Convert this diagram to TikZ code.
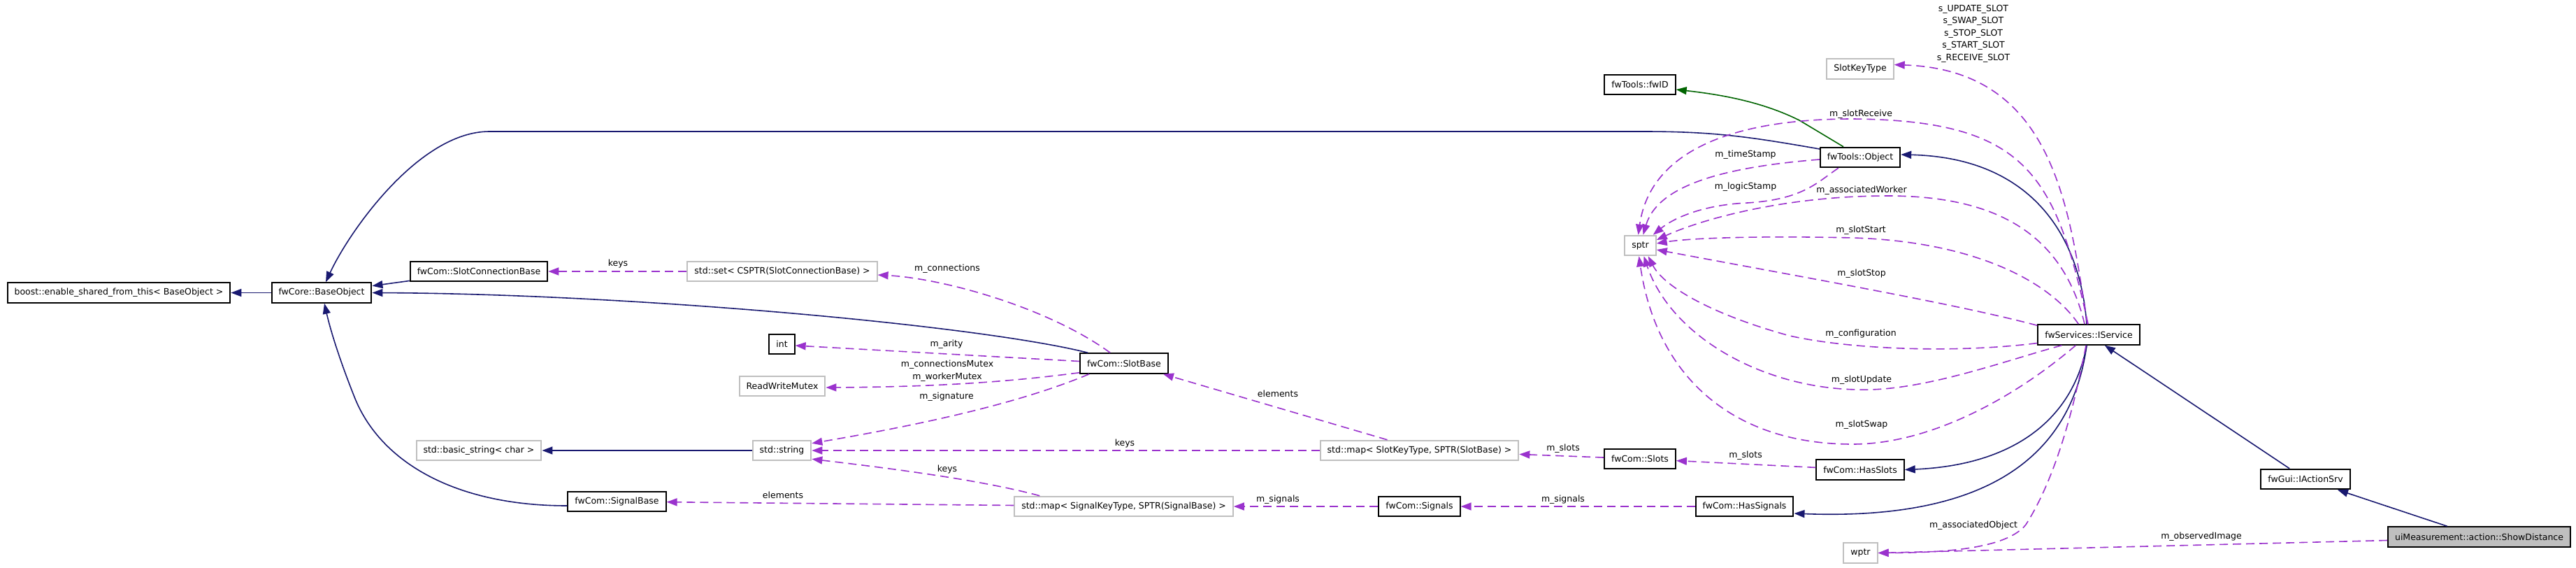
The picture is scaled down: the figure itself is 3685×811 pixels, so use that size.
\documentclass[tikz,border=0pt]{standalone}
\usepackage{fontspec}
\setmainfont{DejaVu Sans}
\usetikzlibrary{arrows.meta,calc}
\definecolor{inhblue}{HTML}{191970}
\definecolor{usepurple}{HTML}{9A32CD}
\definecolor{protgreen}{HTML}{006400}
\definecolor{undocgray}{HTML}{BFBFBF}

\begin{document}
\begin{tikzpicture}[
  x=1pt, y=-1pt,
  >={Triangle[length=15pt,width=11pt]},
  every node/.style={font=\fontsize{12.5}{17.5}\selectfont},
  cls/.style={draw=black, line width=2pt, fill=white, minimum height=28.5pt,
              inner xsep=10pt, inner ysep=2pt},
  ext/.style={cls, draw=undocgray},
  self/.style={cls, fill=undocgray},
  inh/.style={->, draw=inhblue, line width=1.6pt},
  prot/.style={->, draw=protgreen, line width=1.6pt},
  uses/.style={->, draw=usepurple, line width=1.6pt, dash pattern=on 12pt off 7pt},
  lbl/.style={inner sep=0pt, align=center},
]
\useasboundingbox (0,0) rectangle (3685,811);

% classes
\node[cls]  (boost)      at (170,418.5)   {boost::enable\_shared\_from\_this< BaseObject >};
\node[cls]  (base)       at (460,418.5)   {fwCore::BaseObject};
\node[cls]  (slotconn)   at (685,388)     {fwCom::SlotConnectionBase};
\node[ext]  (stdset)     at (1119,388)    {std::set< CSPTR(SlotConnectionBase) >};
\node[cls]  (int)        at (1118.5,492)  {int};
\node[ext]  (rwmutex)    at (1119,552)    {ReadWriteMutex};
\node[ext]  (basicstr)   at (685,644)     {std::basic\_string< char >};
\node[ext]  (stdstring)  at (1118.5,644)  {std::string};
\node[cls]  (sigbase)    at (882.5,717)   {fwCom::SignalBase};
\node[cls]  (slotbase)   at (1608,519.5)  {fwCom::SlotBase};
\node[ext]  (mapslot)    at (2030.5,644)  {std::map< SlotKeyType, SPTR(SlotBase) >};
\node[ext]  (mapsig)     at (1607.5,724)  {std::map< SignalKeyType, SPTR(SignalBase) >};
\node[cls]  (signals)    at (2030.5,724)  {fwCom::Signals};
\node[cls]  (slots)      at (2346,656)    {fwCom::Slots};
\node[cls]  (hasslots)   at (2661,671.5)  {fwCom::HasSlots};
\node[cls]  (hassignals) at (2495.5,724)  {fwCom::HasSignals};
\node[ext]  (wptr)       at (2661.5,790.5){wptr};
\node[ext]  (sptr)       at (2346.5,351)  {sptr};
\node[ext]  (slotkey)    at (2661,98.5)   {SlotKeyType};
\node[cls]  (fwid)       at (2346,121)    {fwTools::fwID};
\node[cls]  (object)     at (2661,225)    {fwTools::Object};
\node[cls]  (iservice)   at (2988,478.5)  {fwServices::IService};
\node[cls]  (iaction)    at (3298,685)    {fwGui::IActionSrv};
\node[self] (showdist)   at (3546.5,767.5){uiMeasurement::action::ShowDistance};

% inheritance
\draw[inh] (base) -- (boost);
\draw[inh] (slotconn) -- (base);
\draw[inh] ($(slotbase.north west)+(12,0)$) .. controls (1400,465) and (900,420) .. (base.east);
\draw[inh] ($(object.west)+(0,-12)$) .. controls (2500,195) and (2450,188) .. (2350,188)
  -- (700,188) .. controls (600,188) and (500,330) .. ($(base.north)+(6,0)$);
\draw[inh] ($(sigbase.west)+(0,6)$) .. controls (650,723) and (545,660) .. (508,570)
  .. controls (480,500) and (470,460) .. ($(base.south)+(4,0)$);
\draw[inh] (stdstring) -- (basicstr);
\draw[inh] ($(iservice.north)+(-3,0)$) .. controls (2975,330) and (2900,225) .. ($(object.east)+(0,-4)$);
\draw[inh] ($(iservice.south)+(-3,0)$) .. controls (2965,600) and (2880,665) .. (hasslots.east);
\draw[inh] ($(iservice.south)+(-3,0)$) .. controls (2965,640) and (2860,745) .. ($(hassignals.east)+(0,10)$);
\draw[inh] (iaction) -- (iservice);
\draw[inh] (showdist) -- (iaction);
\draw[prot] ($(object.north)+(-24,0)$) -- (2574,172) .. controls (2520,145) and (2460,135) .. ($(fwid.east)+(0,7)$);

% members
\draw[uses] (stdset) -- (slotconn) node[lbl] (lkeysa) at (884,377) {keys};
\draw[uses] ($(slotbase.north west)+(44,0)$) .. controls (1500,440) and (1350,398) .. ($(stdset.east)+(0,5)$)
  node[lbl] (lconn) at (1355,384) {m\_connections};
\draw[uses] ($(slotbase.west)+(0,-3)$) -- ($(int.east)+(0,2)$) node[lbl] (larity) at (1354,492) {m\_arity};
\draw[uses] ($(slotbase.south west)+(0,-2)$) .. controls (1450,545) and (1350,553) .. ($(rwmutex.east)+(0,2)$)
  node[lbl] (lmutex) at (1355,530) {m\_connectionsMutex\\m\_workerMutex};
\draw[uses] ($(slotbase.south west)+(14,0)$) .. controls (1450,580) and (1300,610) .. ($(stdstring.north east)+(0,5)$)
  node[lbl] (lsign) at (1354,567) {m\_signature};
\draw[uses] (mapslot) -- (stdstring) node[lbl] (lkeysb) at (1609,634) {keys};
\draw[uses] ($(mapslot.north)+(-46,0)$) -- ($(slotbase.south east)+(-8,0)$)
  node[lbl] (lelema) at (1828,563) {elements};
\draw[uses] ($(mapsig.north west)+(37,0)$) .. controls (1400,685) and (1260,668) .. ($(stdstring.south east)+(0,-3)$)
  node[lbl] (lkeysc) at (1355,671) {keys};
\draw[uses] (mapsig) -- (sigbase) node[lbl] (lelemb) at (1120,708) {elements};
\draw[uses] (signals) -- (mapsig) node[lbl] (lsigsa) at (1828,714) {m\_signals};
\draw[uses] (slots) -- (mapslot) node[lbl] (lslotsa) at (2236,641) {m\_slots};
\draw[uses] (hasslots) -- (slots) node[lbl] (lslotsb) at (2497,651) {m\_slots};
\draw[uses] (hassignals) -- (signals) node[lbl] (lsigsb) at (2236,714) {m\_signals};

% object -> sptr
\draw[uses] ($(object.west)+(0,3)$) .. controls (2450,240) and (2370,270) .. ($(sptr.north)+(4,0)$)
  node[lbl] (lstamp) at (2497,221) {m\_timeStamp};
\draw[uses] ($(object.south west)+(27,0)$) .. controls (2600,260) and (2580,285) .. (2500,290)
  .. controls (2430,293) and (2390,315) .. ($(sptr.north east)+(-5,0)$)
  node[lbl] (llogic) at (2497,267) {m\_logicStamp};

% service -> sptr
\draw[uses] ($(iservice.north)+(-1,0)$) .. controls (2940,250) and (2900,172) .. (2650,170)
  .. controls (2470,170) and (2360,220) .. ($(sptr.north)+(-3,0)$)
  node[lbl] (lrecv) at (2662,163) {m\_slotReceive};
\draw[uses] ($(iservice.north)+(-6,0)$) .. controls (2950,330) and (2850,280) .. (2700,280)
  .. controls (2550,280) and (2430,315) .. ($(sptr.east)+(0,-8)$)
  node[lbl] (lworker) at (2663,272) {m\_associatedWorker};
\draw[uses] ($(iservice.north west)+(59,0)$) .. controls (2930,400) and (2820,345) .. (2650,340)
  .. controls (2520,337) and (2420,340) .. ($(sptr.east)+(0,-3)$)
  node[lbl] (lstart) at (2662,329) {m\_slotStart};
\draw[uses] ($(iservice.north west)+(0,2)$) .. controls (2800,435) and (2600,400) .. ($(sptr.east)+(0,6)$)
  node[lbl] (lstop) at (2663,391) {m\_slotStop};
\draw[uses] ($(iservice.west)+(0,12)$) .. controls (2800,505) and (2650,500) .. (2560,480)
  .. controls (2450,450) and (2380,410) .. ($(sptr.south east)+(-12,0)$)
  node[lbl] (lconf) at (2662,477) {m\_configuration};
\draw[uses] ($(iservice.south west)+(35,0)$) .. controls (2870,515) and (2750,560) .. (2658,557)
  .. controls (2520,555) and (2390,480) .. ($(sptr.south)+(5,0)$)
  node[lbl] (lupd) at (2663,543) {m\_slotUpdate};
\draw[uses] ($(iservice.south west)+(55,0)$) .. controls (2880,570) and (2760,635) .. (2650,635)
  .. controls (2480,635) and (2370,540) .. ($(sptr.south)+(-2,0)$)
  node[lbl] (lswap) at (2663,607) {m\_slotSwap};

\draw[uses] ($(iservice.north)+(-2,0)$) .. controls (2960,300) and (2940,100) .. ($(slotkey.east)+(0,-6)$)
  node[lbl] (lslotkeys) at (2823,48) {s\_UPDATE\_SLOT\\s\_SWAP\_SLOT\\s\_STOP\_SLOT\\s\_START\_SLOT\\s\_RECEIVE\_SLOT};
\draw[uses] ($(iservice.south)+(-4,0)$) .. controls (2960,620) and (2930,700) .. (2898,750)
  .. controls (2870,785) and (2780,790) .. (wptr.east)
  node[lbl] (lassoc) at (2823,751) {m\_associatedObject};
\draw[uses] ($(showdist.west)+(0,5)$) -- (wptr.east) node[lbl] (limage) at (3149,767) {m\_observedImage};
\end{tikzpicture}
\end{document}
